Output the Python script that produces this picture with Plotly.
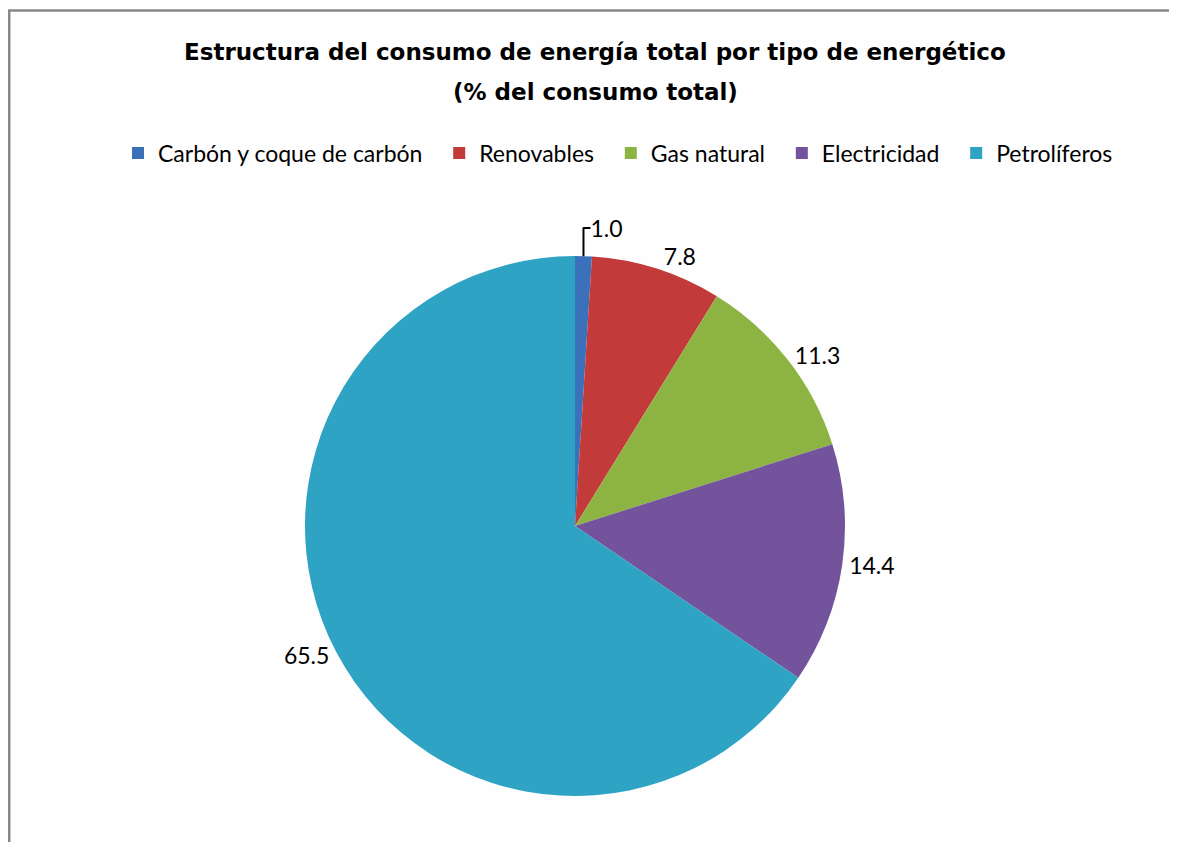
import plotly.graph_objects as go

categories = ["Carbón y coque de carbón", "Renovables", "Gas natural", "Electricidad", "Petrolíferos"]
values = [1.0, 7.8, 11.3, 14.4, 65.5]
colors = ["#3B70BA", "#C23A39", "#8DB443", "#73539B", "#2FA3C4"]
title_line1 = "Estructura del consumo de energía total por tipo de energético"
title_line2 = "(% del consumo total)"

# page body adds an 8px margin, so the figure is sized/positioned to compensate
OFF = 8
W, H = 1177 - OFF, 842 - OFF
cx, cy, r = 575 - OFF, 526 - OFF, 270

legend_labels = [c + "\u00a0\u00a0" for c in categories]

fig = go.Figure(go.Pie(
    labels=legend_labels,
    values=values,
    sort=False,
    direction="clockwise",
    rotation=0,
    marker=dict(colors=colors, line=dict(width=0)),
    texttemplate="%{value:.1f}",
    textposition="outside",
    textfont=dict(family="Lato", size=23, color="#000000"),
    domain=dict(x=[(cx - r) / W, (cx + r) / W], y=[(H - cy - r) / H, (H - cy + r) / H]),
    showlegend=True,
    hovertemplate="%{label}: %{value:.1f}<extra></extra>",
))

fig.update_layout(
    width=W, height=H,
    margin=dict(l=0, r=0, t=0, b=0),
    paper_bgcolor="#FEFEFE",
    plot_bgcolor="#FEFEFE",
    legend=dict(
        orientation="h",
        x=(624 - OFF) / W, xanchor="center",
        y=1 - (153 - OFF) / H, yanchor="middle",
        font=dict(family="Lato", size=23, color="#000000"),
        itemwidth=30,
        bgcolor="rgba(0,0,0,0)",
    ),
    annotations=[
        dict(text="<b>" + title_line1 + "</b>", xref="paper", yref="paper",
             x=(595 - OFF) / W, y=1 - (52 - OFF) / H, xanchor="center", yanchor="middle",
             showarrow=False, font=dict(family="DejaVu Sans", size=23, color="#000000")),
        dict(text="<b>" + title_line2 + "</b>", xref="paper", yref="paper",
             x=(595 - OFF) / W, y=1 - (92 - OFF) / H, xanchor="center", yanchor="middle",
             showarrow=False, font=dict(family="DejaVu Sans", size=23, color="#000000")),
    ],
    shapes=[dict(
        type="rect", xref="paper", yref="paper",
        x0=1.2 / W, x1=1.02, y0=-0.02, y1=1 - 2.5 / H,
        line=dict(color="#878787", width=2.5),
    )],
)

fig.write_html("out.html")
